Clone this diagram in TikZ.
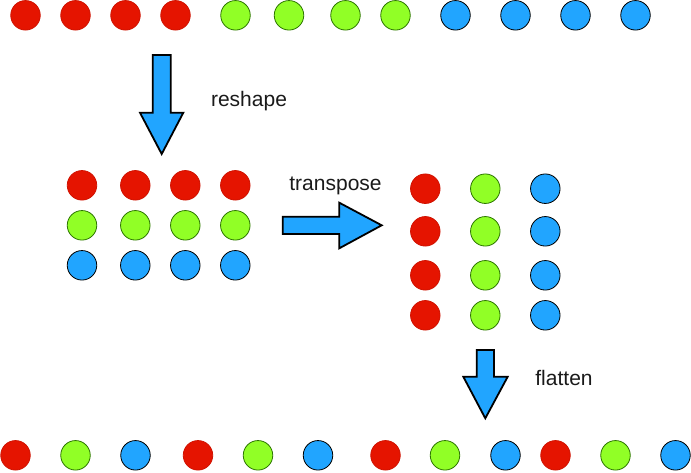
\documentclass[tikz,border=0pt]{standalone}
\usepackage{fontspec}
\setmainfont{Liberation Sans}
\usepackage{tikz}
\definecolor{dotred}{HTML}{E51400}
\definecolor{dotredline}{HTML}{D01200}
\definecolor{dotgreen}{HTML}{91FF26}
\definecolor{dotgreenline}{HTML}{2D7600}
\definecolor{dotblue}{HTML}{21A5FF}
\definecolor{textgray}{HTML}{1A1A1A}
\tikzset{
  dot/.style={circle,minimum size=29.5pt,inner sep=0pt,line width=0.8pt},
  r/.style={dot,fill=dotred,draw=dotredline},
  g/.style={dot,fill=dotgreen,draw=dotgreenline},
  b/.style={dot,fill=dotblue,draw=black},
  bigarrow/.style={fill=dotblue,draw=black,line width=1.8pt},
  label/.style={anchor=base,text=textgray,font=\fontsize{21}{25}\selectfont,inner sep=0pt}
}
\begin{document}
\begin{tikzpicture}[x=1pt,y=-1pt]
                \useasboundingbox (0,0) rectangle (691,472);
                %Row before reshape
                \foreach \x/\c [count=\i] in {25.5/r,75.5/r,125.5/r,175.5/r,235.5/g,289/g,345.5/g,395.5/g,455.5/b,515.5/b,575.5/b,635.5/b}
                    \node[\c] (top\i) at (\x,15.3) {};
                %Reshaped 3x4
                \foreach \y/\c [count=\j] in {185.3/r,225.3/g,265.3/b}
                    \foreach \x [count=\i] in {82,135.3,185.3,235.3}
                        \node[\c] (m\j\i) at (\x,\y) {};
                %Transposed 4x3
                \foreach \x/\c [count=\i] in {425.3/r,485.3/g,545.3/b}
                    \foreach \y [count=\j] in {188.7,231.3,275.3,315.3}
                        \node[\c] (t\j\i) at (\x,\y) {};
                %Row after flatten
                \foreach \x/\c [count=\i] in {15.5/r,75.5/g,135.5/b,198/r,258/g,318/b,385.5/r,445/g,505.5/b,555.5/r,615.5/g,675.5/b}
                    \node[\c] (bot\i) at (\x,455.3) {};
                %Arrows
                \draw[bigarrow] (152.7,55)--(170.7,55)--(170.7,112.7)--(183.3,112.7)--(161.7,154)--(140,112.7)--(152.7,112.7)--cycle;
                \draw[bigarrow] (282.7,216.7)--(339.3,216.7)--(339.3,202.7)--(381.7,225.3)--(339.3,248.3)--(339.3,234)--(282.7,234)--cycle;
                \draw[bigarrow] (476.7,350)--(494,350)--(494,376.7)--(507.7,376.7)--(485.3,418.3)--(463.3,376.7)--(476.7,376.7)--cycle;
                %Labels
                \node[label] (reshape) at (249,106.7) {reshape};
                \node[label] (transpose) at (335.5,190.7) {transpose};
                \node[label] (flatten) at (564,385) {flatten};
            \end{tikzpicture}
\end{document}
